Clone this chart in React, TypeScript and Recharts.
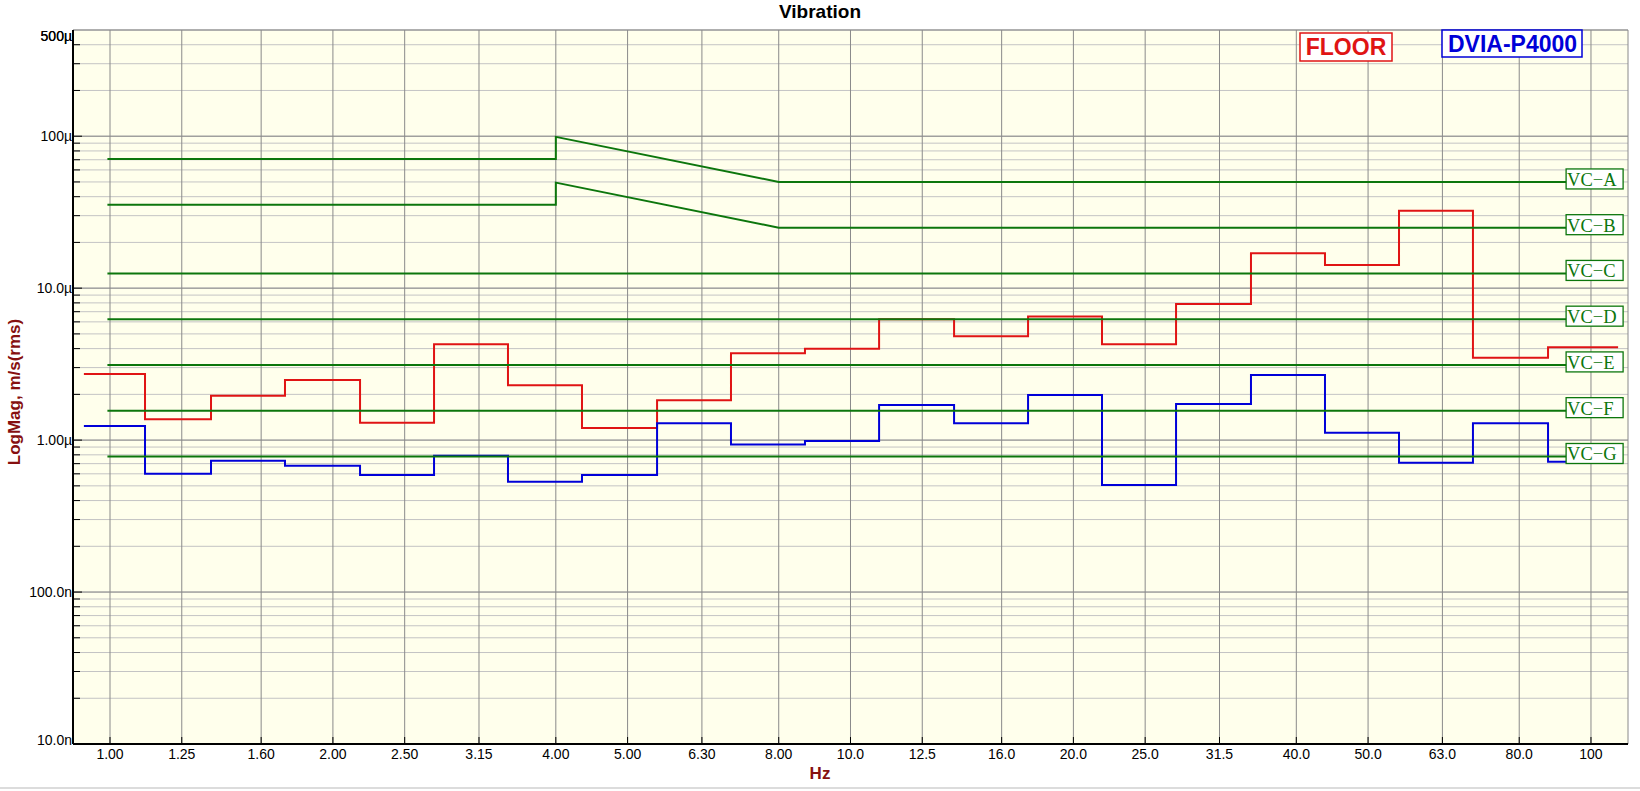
import React from 'react';
import { LineChart, Line, XAxis, YAxis, CartesianGrid, LabelList } from 'recharts';

// ---- data (velocity in µm/s) ----
const BAND_CENTERS_HZ = [1, 1.25, 1.6, 2, 2.5, 3.15, 4, 5, 6.3, 8, 10, 12.5, 16, 20, 25, 31.5, 40, 50, 63, 80, 100];
const X_TICK_LABELS = ['1.00', '1.25', '1.60', '2.00', '2.50', '3.15', '4.00', '5.00', '6.30', '8.00', '10.0', '12.5', '16.0', '20.0', '25.0', '31.5', '40.0', '50.0', '63.0', '80.0', '100'];
// band step edges (Hz)
const STEP_EDGES_HZ = [0.922, 1.115, 1.369, 1.723, 2.176, 2.739, 3.447, 4.339, 5.48, 6.896, 8.68, 10.93, 13.8, 17.37, 21.86, 27.52, 34.74, 43.73, 55.05, 69.28, 87.5, 108.8];
const FLOOR_UMS = [2.72, 1.37, 1.96, 2.49, 1.3, 4.28, 2.3, 1.2, 1.83, 3.73, 3.99, 6.25, 4.83, 6.51, 4.28, 7.88, 17.0, 14.2, 32.3, 3.48, 4.09];
const DVIA_UMS = [1.24, 0.6, 0.731, 0.678, 0.589, 0.789, 0.532, 0.589, 1.29, 0.936, 0.985, 1.7, 1.29, 1.98, 0.506, 1.73, 2.68, 1.12, 0.709, 1.29, 0.72];

const VC_NAMES = ['VC−A', 'VC−B', 'VC−C', 'VC−D', 'VC−E', 'VC−F', 'VC−G'];
const VC_A_F = [0.992, 4, 4, 8, 108.8];
const VC_A_V = [70.7, 70.7, 99, 50, 50];
const VC_B_F = [0.992, 4, 4, 8, 108.8];
const VC_B_V = [35.4, 35.4, 49.5, 25, 25];
const VC_FLAT_F = [0.992, 108.8];
const VC_FLAT_LEVELS = [12.5, 6.25, 3.125, 1.5625, 0.78];

const Y_DECADES = [0.01, 0.1, 1, 10, 100];
const Y_LABEL_VALUES = [0.01, 0.1, 1, 10, 100, 500];
const Y_LABELS = ['10.0n', '100.0n', '1.00µ', '10.0µ', '100µ', '500µ'];

// ---- layout ----
const AXIS_X = 73;

// ---- helpers ----
const Y_ALL: number[] = [];
Y_DECADES.forEach((d) => {
  for (let m = 1; m <= 9; m++) {
    const v = Number((d * m).toPrecision(3));
    if (v <= 500) Y_ALL.push(v);
  }
});
Y_ALL.push(500);

const stepSeries = (vals: number[]) => {
  const pts = vals.map((v, i) => ({ f: STEP_EDGES_HZ[i], v }));
  pts.push({ f: STEP_EDGES_HZ[STEP_EDGES_HZ.length - 1], v: vals[vals.length - 1] });
  return pts;
};
const curve = (fs: number[], vs: number[], name: string) =>
  fs.map((f, i) => ({ f, v: vs[i], name: i === fs.length - 1 ? name : undefined }));

const floorData = stepSeries(FLOOR_UMS);
const dviaData = stepSeries(DVIA_UMS);
const vcData = [
  curve(VC_A_F, VC_A_V, VC_NAMES[0]),
  curve(VC_B_F, VC_B_V, VC_NAMES[1]),
  ...VC_FLAT_LEVELS.map((L, i) => curve(VC_FLAT_F, [L, L], VC_NAMES[i + 2])),
];

const GREEN = '#0c760c';
const RED = '#e01414';
const BLUE = '#0000d8';
const DARKRED = '#861010';
const SANS = '"Liberation Sans", Arial, sans-serif';
const SERIF = '"Liberation Serif", "Times New Roman", serif';

const XTick = (p: any) => {
  const { x, y, payload } = p;
  const idx = BAND_CENTERS_HZ.indexOf(payload.value);
  return (
    <g>
      <line x1={x} x2={x} y1={y} y2={y - 7} stroke="#000" strokeWidth={1} />
      <text x={x} y={y + 15} textAnchor="middle" fontFamily={SANS} fontSize={14} fill="#000">
        {idx >= 0 ? X_TICK_LABELS[idx] : ''}
      </text>
    </g>
  );
};

const YTick = (p: any) => {
  const { y, payload } = p;
  const x = AXIS_X;
  const v = payload.value;
  const li = Y_LABEL_VALUES.indexOf(v);
  const isDecade = Y_DECADES.indexOf(v) >= 0;
  const dy = v === 500 ? 11 : v === 0.01 ? 1 : 5;
  return (
    <g>
      {v !== 500 && v !== 0.01 && (
        <line x1={x} x2={x + (isDecade ? 9 : 7)} y1={y} y2={y} stroke="#000" strokeWidth={1} />
      )}
      {li >= 0 && (
        <text x={x - 1} y={y + dy} textAnchor="end" fontFamily={SANS} fontSize={14} fill="#000">
          {Y_LABELS[li]}
        </text>
      )}
    </g>
  );
};

const VcLabel = (p: any) => {
  const value = p.value;
  if (!value) return null;
  const x = p.x ?? p.viewBox?.x;
  const y = p.y ?? p.viewBox?.y;
  return (
    <g>
      <rect x={x - 52} y={y - 13} width={57} height={20} fill="#ffffff" stroke={GREEN} strokeWidth={1.3} />
      <text x={x - 51} y={y + 4} fontFamily={SERIF} fontSize={18.5} fill={GREEN}>
        {value}
      </text>
    </g>
  );
};

export default function App() {
  return (
    <div style={{ position: 'relative', width: 1640, height: 791, background: '#fff' }}>
      <style>{`body{margin:0;}`}</style>
      <LineChart width={1640} height={791} margin={{ top: 30, right: 12, bottom: 0, left: 0 }}>
        <XAxis
          dataKey="f"
          type="number"
          scale="log"
          domain={[0.8913, 112.2]}
          allowDataOverflow
          ticks={BAND_CENTERS_HZ}
          interval={0}
          tick={<XTick />}
          tickLine={false}
          tickSize={0}
          tickMargin={0}
          axisLine={{ stroke: '#000', strokeWidth: 2 }}
          height={47}
        />
        <YAxis
          yAxisId="main"
          dataKey="v"
          type="number"
          scale="log"
          domain={[0.01, 500]}
          allowDataOverflow
          ticks={Y_ALL}
          interval={0}
          tick={<YTick />}
          tickLine={false}
          tickSize={0}
          tickMargin={0}
          axisLine={{ stroke: '#000', strokeWidth: 2 }}
          width={AXIS_X}
        />
        <YAxis
          yAxisId="dec"
          type="number"
          scale="log"
          domain={[0.01, 500]}
          allowDataOverflow
          ticks={Y_DECADES}
          interval={0}
          width={0}
          hide
        />
        <CartesianGrid yAxisId="main" horizontal vertical={false} stroke="#c4c4c4" fill="#ffffec" />
        <CartesianGrid yAxisId="dec" horizontal vertical stroke="#8a8a8a" />
        <Line
          yAxisId="main"
          data={floorData}
          dataKey="v"
          type="stepAfter"
          stroke={RED}
          strokeWidth={2}
          dot={false}
          activeDot={false}
          isAnimationActive={false}
        />
        <Line
          yAxisId="main"
          data={dviaData}
          dataKey="v"
          type="stepAfter"
          stroke={BLUE}
          strokeWidth={2}
          dot={false}
          activeDot={false}
          isAnimationActive={false}
        />
        {vcData.map((d, i) => (
          <Line
            key={i}
            yAxisId="main"
            data={d}
            dataKey="v"
            type="linear"
            stroke={GREEN}
            strokeWidth={2}
            dot={false}
            activeDot={false}
            isAnimationActive={false}
          >
            <LabelList dataKey="name" content={<VcLabel />} />
          </Line>
        ))}
      </LineChart>
      <svg
        width={1640}
        height={791}
        style={{ position: 'absolute', left: 0, top: 0, pointerEvents: 'none' }}
      >
        <text x={820} y={18} textAnchor="middle" fontFamily={SANS} fontWeight="bold" fontSize={19} fill="#000">
          Vibration
        </text>
        <text x={820} y={779} textAnchor="middle" fontFamily={SANS} fontWeight="bold" fontSize={17} fill={DARKRED}>
          Hz
        </text>
        <text
          x={0}
          y={0}
          transform="translate(19.5,392) rotate(-90)"
          textAnchor="middle"
          fontFamily={SANS}
          fontWeight="bold"
          fontSize={17}
          fill={DARKRED}
        >
          LogMag, m/s(rms)
        </text>
        <rect x={1300} y={33} width={92} height={28} fill="#ffffff" stroke={RED} strokeWidth={1.5} />
        <text x={1346} y={55} textAnchor="middle" fontFamily={SANS} fontWeight="bold" fontSize={23} fill={RED}>
          FLOOR
        </text>
        <rect x={1442} y={30} width={140} height={27} fill="#ffffff" stroke={BLUE} strokeWidth={1.5} />
        <text x={1512.5} y={52} textAnchor="middle" fontFamily={SANS} fontWeight="bold" fontSize={23} fill={BLUE}>
          DVIA-P4000
        </text>
        <line x1={0} x2={1640} y1={788} y2={788} stroke="#dcdcdc" strokeWidth={2} />
      </svg>
    </div>
  );
}
